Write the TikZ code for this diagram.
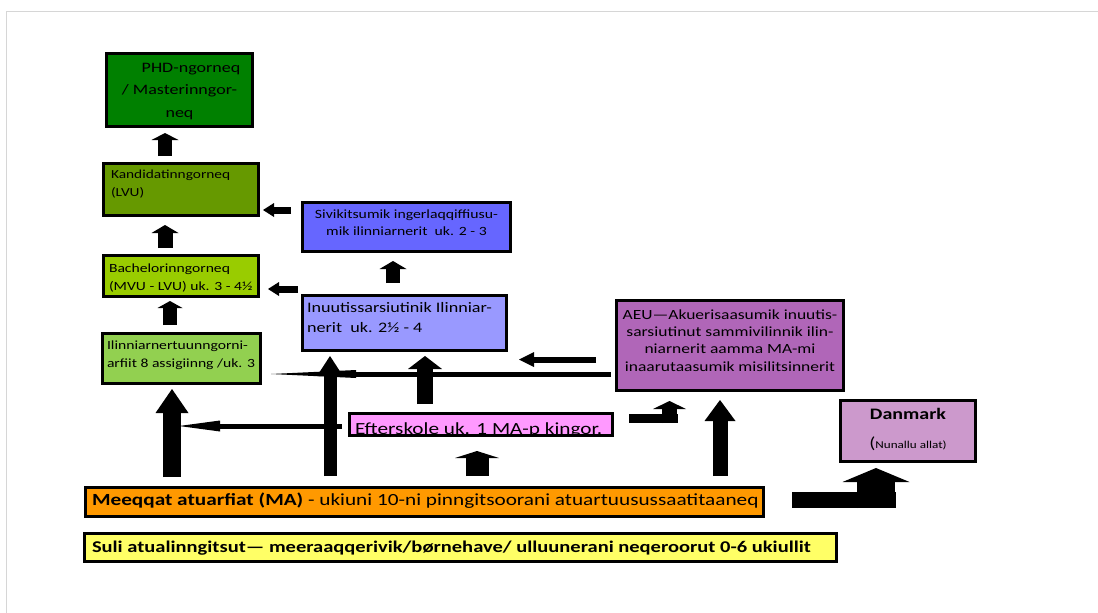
\documentclass[tikz,border=0pt]{standalone}
\usepackage{fontspec}
\setmainfont{Carlito}[FakeStretch=1.25]
\usetikzlibrary{arrows.meta}
\definecolor{cphd}{RGB}{0,128,0}
\definecolor{ckand}{RGB}{102,153,0}
\definecolor{cbach}{RGB}{153,204,0}
\definecolor{cilin}{RGB}{146,208,80}
\definecolor{csiv}{RGB}{102,102,255}
\definecolor{cinuut}{RGB}{153,153,255}
\definecolor{caeu}{RGB}{176,102,184}
\definecolor{cefter}{RGB}{255,153,255}
\definecolor{cdan}{RGB}{204,153,204}
\definecolor{cma}{RGB}{255,153,0}
\definecolor{csuli}{RGB}{255,255,102}
\definecolor{cframe}{RGB}{214,214,214}
\newcommand{\fs}[2]{\fontsize{#1pt}{#2pt}\selectfont}
\newcommand{\lblock}[5]{\raisebox{-#1pt}[0pt][0pt]{\makebox[#2pt][l]{\fs{#3}{#4}\begin{tabular}[t]{@{}l@{}}#5\end{tabular}}}}
\newcommand{\cblock}[4]{\raisebox{-#1pt}[0pt][0pt]{\fs{#2}{#3}\begin{tabular}[t]{@{}c@{}}#4\end{tabular}}}
\tikzset{
  box/.style={draw=black, line width=3pt, inner sep=0pt, rectangle},
  barrow/.style n args={3}{draw=black, line width=#1pt, -{Triangle[width=#2pt,length=#3pt,line width=0pt]}},
  bar/.style={draw=black, line width=#1pt},
}
\begin{document}
\begin{tikzpicture}[x=1pt,y=-1pt]
\useasboundingbox (0,0) rectangle (1098,613);
\draw[cframe, line width=1pt] (1098,11.5) -- (6,11.5) -- (6,613);

% boxes
\node[box, fill=cphd, minimum width=146pt, minimum height=73pt] (phd) at (179.5,90)
  {\cblock{-18}{14.4}{22.5}{\hspace*{23pt}PHD-ngorneq\\/ Masterinngor-\\neq}};
\node[box, fill=ckand, minimum width=155pt, minimum height=52pt] (kand) at (181,189.5)
  {\lblock{-11}{140}{12.3}{18}{Kandidatinngorneq\\(LVU)}};
\node[box, fill=cbach, minimum width=155pt, minimum height=41pt] (bach) at (181,276)
  {\lblock{-3.5}{144}{12.5}{18}{Bachelorinngorneq\\(MVU - LVU) uk. 3 - 4½}};
\node[box, fill=cilin, minimum width=158pt, minimum height=50pt] (ilin) at (181.5,358.5)
  {\lblock{-9}{149}{12.5}{17.5}{Ilinniarnertuunngorni-\\arfiit 8 assigiinng /uk. 3}};
\node[box, fill=csiv, minimum width=208pt, minimum height=49pt] (siv) at (406.5,227)
  {\cblock{-8.5}{12.6}{17}{Sivikitsumik ingerlaqqiffiusu-\\mik ilinniarnerit\ \ uk. 2 - 3}};
\node[box, fill=cinuut, minimum width=204pt, minimum height=55pt] (inuut) at (404.5,323)
  {\lblock{-11}{195}{14.5}{20}{Inuutissarsiutinik Ilinniar-\\nerit\ \ uk. 2½ - 4}};
\node[box, fill=caeu, minimum width=227pt, minimum height=90pt] (aeu) at (730,345.5)
  {\cblock{-26.5}{14}{17.4}{AEU—Akuerisaasumik inuutis-\\sarsiutinut sammivilinnik ilin-\\niarnerit aamma MA-mi\\inaarutaasumik misilitsinnerit}};
\node[box, fill=cefter, minimum width=263pt, minimum height=22pt] (efter) at (481,424.5)
  {\lblock{9.5}{252}{17}{20}{Efterskole uk. 1 MA-p kingor.}};
\node[box, fill=cdan, minimum width=135pt, minimum height=61pt] (dan) at (908,431)
  {\cblock{-11.5}{16}{28.5}{\textbf{Danmark}\\({\fs{10.5}{12}Nunallu allat)}}};
\node[box, fill=cma, minimum width=678pt, minimum height=29pt] (ma) at (424.5,502)
  {\lblock{3.5}{665}{17}{20}{\textbf{Meeqqat atuarfiat (MA)} - ukiuni 10-ni pinngitsoorani atuartuusussaatitaaneq}};
\node[box, fill=csuli, minimum width=752pt, minimum height=28pt] (suli) at (460.5,547.5)
  {\lblock{4.5}{737}{16.4}{20}{\textbf{Suli atualinngitsut— meeraaqqerivik/børnehave/ ulluunerani neqeroorut 0-6 ukiullit}}};

% vertical block arrows
\draw[barrow={14}{27}{7}, shorten <=6pt, shorten >=5pt] (kand.north -| 165,0) -- (phd.south -| 165,0);
\draw[barrow={15}{27}{8}, shorten <=6pt, shorten >=8pt] (bach.north -| 165,0) -- (kand.south -| 165,0);
\draw[barrow={14}{25}{7}, shorten <=7pt, shorten >=3pt] (ilin.north -| 170,0) -- (bach.south -| 170,0);
\draw[barrow={14}{27}{8}, shorten <=11pt, shorten >=8pt] (inuut.north -| 393,0) -- (siv.south -| 393,0);
\draw[barrow={18}{33}{24}, shorten <=9pt, shorten >=4pt] (ma.north -| 172,0) -- (ilin.south -| 172,0);
\draw[barrow={13}{26}{20}, shorten <=10pt, shorten >=4pt] (ma.north -| 330,0) -- (inuut.south -| 330,0);
\draw[barrow={16}{34}{13}, shorten <=8pt, shorten >=4pt] (efter.north -| 425,0) -- (inuut.south -| 425,0);
\draw[barrow={23}{44}{7}, shorten <=10pt, shorten >=14pt] (ma.north -| 477,0) -- (efter.south -| 477,0);
\draw[barrow={15}{31}{21}, shorten <=10pt, shorten >=8pt] (ma.north -| 720,0) -- (aeu.south -| 720,0);

% horizontal arrows
\draw[barrow={7}{14}{11}, shorten <=10pt, shorten >=3pt] (siv.west |- 0,210) -- (kand.east |- 0,210);
\draw[barrow={7}{14}{11}, shorten <=3pt, shorten >=8pt] (inuut.west |- 0,289) -- (bach.east |- 0,289);
\draw[barrow={6}{15}{15}, shorten <=19pt, shorten >=11pt] (aeu.west |- 0,359.5) -- (inuut.east |- 0,359.5);
\draw[barrow={5}{8}{85}, shorten <=4pt, shorten >=9pt] (aeu.west |- 0,374) -- (ilin.east |- 0,374);
\coordinate (a8end) at (179,426);
\draw[barrow={5}{11}{41}, shorten <=6pt] (efter.west |- 0,426) -- (a8end);

% bent arrows
\draw[bar=9] (efter.east |- 0,418.5) ++(15,0) -- ++(49,0);
\coordinate (a14start) at (669.5,423);
\draw[barrow={15}{33}{8}, shorten >=9pt] (a14start) -- (aeu.south -| 669.5,0);
\draw[bar=16] (ma.east |- 0,500) ++(27,0) -- ++(104,0);
\coordinate (a16start) at (876,508);
\draw[barrow={38}{67}{14}, shorten >=5pt] (a16start) -- (dan.south -| 876,0);
\end{tikzpicture}
\end{document}
